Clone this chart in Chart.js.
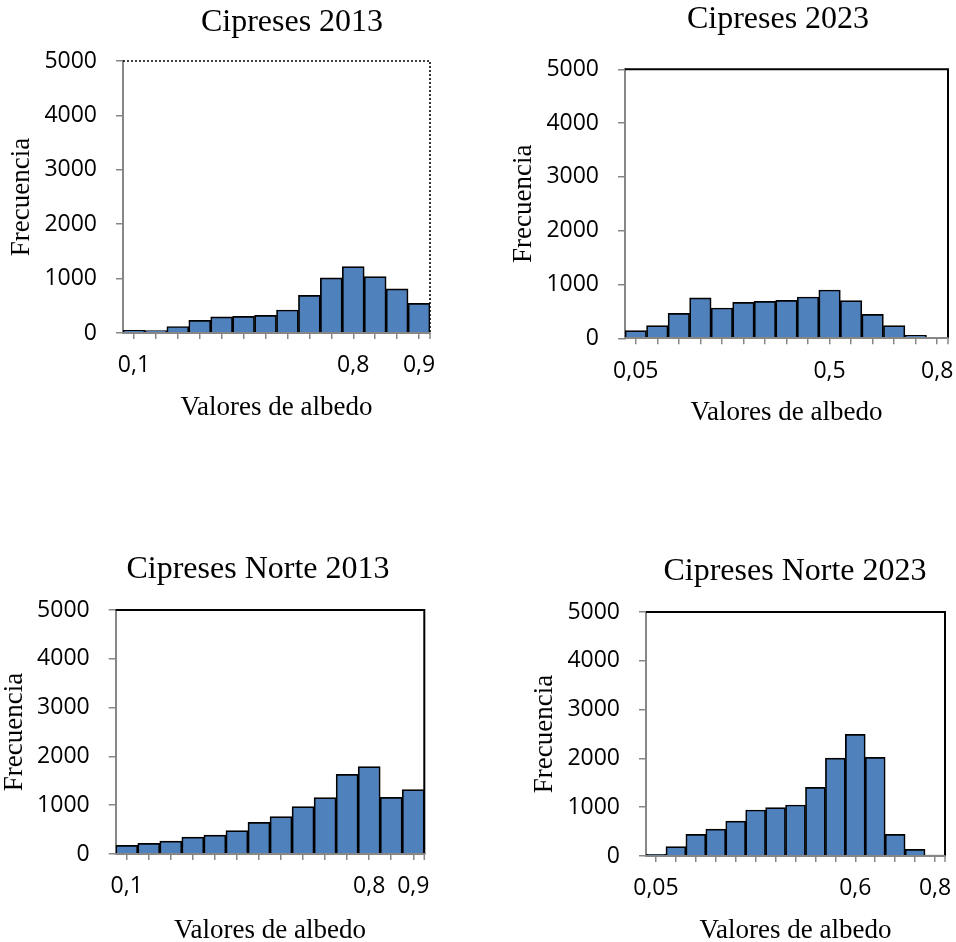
<!DOCTYPE html>
<html>
<head>
<meta charset="utf-8">
<script src="https://cdn.jsdelivr.net/npm/chart.js@4/dist/chart.umd.min.js"></script>
<style>
  html, body { margin: 0; padding: 0; background: #fff; overflow: hidden; width: 956px; height: 942px; position: relative; }
  canvas { position: absolute; }
</style>
</head>
<body>
<canvas id="c2013" width="584" height="440" style="left:0px;top:0px"></canvas>
<canvas id="c2023" width="556" height="440" style="left:500px;top:0px"></canvas>
<canvas id="cn2013" width="536" height="430" style="left:-10px;top:530px"></canvas>
<canvas id="cn2023" width="550" height="430" style="left:520px;top:530px"></canvas>
<script>
// Albedo histograms: pixel counts per albedo bin.
const cipreses2013Labels = ['0,1', '', '', '', '', '', '', '', '', '', '0,8', '', '', '0,9'];
const cipreses2013Counts = [50, 45, 120, 233, 295, 307, 325, 423, 693, 1012, 1221, 1037, 810, 546];

const cipreses2023Labels = ['0,05', '', '', '', '', '', '', '', '', '0,5', '', '', '', '', '0,8'];
const cipreses2023Counts = [142, 235, 465, 750, 564, 669, 688, 706, 768, 898, 700, 446, 235, 56, 20];

const norte2013Labels = ['0,1', '', '', '', '', '', '', '', '', '', '', '0,8', '', '0,9'];
const norte2013Counts = [178, 219, 266, 348, 389, 478, 649, 765, 970, 1154, 1633, 1790, 1161, 1318];

const norte2023Labels = ['0,05', '', '', '', '', '', '', '', '', '', '0,6', '', '', '', '0,8'];
const norte2023Counts = [34, 191, 444, 553, 717, 943, 990, 1045, 1407, 2008, 2493, 2022, 444, 137, 20];

const yTicksMax = 5000;
const yTicksStep = 1000;

const AXIS_GREY = '#878787';
const BAR_BLUE = '#4F81BD';

// Black top/right frame of the plot area, plus the closing tick at the end of the category axis.
const framePlugin = {
  id: 'frame',
  afterDatasetsDraw(chart, args, opts) {
    const { ctx, chartArea: a } = chart;
    ctx.save();
    ctx.strokeStyle = '#000';
    ctx.lineWidth = opts.width || 2;
    ctx.setLineDash(opts.dash || []);
    ctx.beginPath();
    ctx.moveTo(a.left, a.top);
    ctx.lineTo(a.right, a.top);
    ctx.lineTo(a.right, a.bottom);
    ctx.stroke();
    ctx.setLineDash([]);
    ctx.strokeStyle = AXIS_GREY;
    ctx.lineWidth = 1.5;
    ctx.beginPath();
    ctx.moveTo(a.right, a.bottom);
    ctx.lineTo(a.right, a.bottom + 6);
    ctx.stroke();
    ctx.restore();
  }
};

const tickFont = { family: 'Open Sans', size: 23 };
const serifTitle = { family: 'Liberation Serif', size: 32, weight: 'normal', lineHeight: 1.2 };
const serifAxis = { family: 'Liberation Serif', size: 27, weight: 'normal', lineHeight: 1.2 };

function histogram(id, title, labels, counts, g) {
  return new Chart(document.getElementById(id), {
    type: 'bar',
    data: {
      labels: labels,
      datasets: [{
        data: counts,
        xAxisID: 'x',
        yAxisID: 'y',
        backgroundColor: BAR_BLUE,
        borderColor: '#000',
        borderWidth: 1.7,
        barPercentage: 1,
        categoryPercentage: 1
      }]
    },
    options: {
      responsive: false,
      animation: false,
      devicePixelRatio: 1,
      layout: { padding: 0 },
      plugins: {
        legend: { display: false },
        tooltip: { enabled: false },
        title: {
          display: true,
          text: title,
          color: '#000',
          font: serifTitle,
          padding: { top: g.titleTop, bottom: g.titleBottom }
        },
        frame: { dash: g.dash, width: g.frameWidth }
      },
      scales: {
        x: {
          offset: true,
          grid: { display: true, offset: false, drawOnChartArea: false, drawTicks: true, tickLength: 6, color: AXIS_GREY, lineWidth: 1.5 },
          border: { display: true, color: AXIS_GREY, width: 2, z: 1 },
          ticks: { autoSkip: false, maxRotation: 0, minRotation: 0, padding: 13, color: '#000', font: tickFont },
          title: { display: true, text: 'Valores de albedo', color: '#000', font: serifAxis, padding: { top: 0, bottom: g.xTitleBottom } },
          afterFit: s => { s.height = g.xHeight; }
        },
        y: {
          min: 0,
          max: yTicksMax,
          grid: { display: true, drawOnChartArea: false, drawTicks: true, tickLength: 7, color: AXIS_GREY, lineWidth: 1.5 },
          border: { display: true, color: AXIS_GREY, width: 2 },
          ticks: { stepSize: yTicksStep, padding: 19, color: '#000', font: tickFont, callback: v => String(v) },
          title: { display: true, text: 'Frecuencia', color: '#000', font: serifAxis, padding: { top: g.yTitleTop, bottom: 0 } },
          afterFit: s => { s.width = g.yWidth; }
        },
        spacer: {
          type: 'linear',
          position: 'right',
          display: true,
          grid: { display: false },
          ticks: { display: false },
          border: { display: false },
          afterFit: s => { s.width = g.spacer; }
        }
      }
    },
    plugins: [framePlugin]
  });
}

histogram('c2013', 'Cipreses 2013', cipreses2013Labels, cipreses2013Counts, {
  titleTop: 3.1, titleBottom: 19.5, xHeight: 107, xTitleBottom: 15.8,
  yWidth: 123, yTitleTop: 5.8, spacer: 154, dash: [2, 2], frameWidth: 1.6
});

histogram('c2023', 'Cipreses 2023', cipreses2023Labels, cipreses2023Counts, {
  titleTop: 0.3, titleBottom: 30.6, xHeight: 101.7, xTitleBottom: 10.8,
  yWidth: 125, yTitleTop: 7.8, spacer: 108, dash: [], frameWidth: 2
});

histogram('cn2013', 'Cipreses Norte 2013', norte2013Labels, norte2013Counts, {
  titleTop: 20.8, titleBottom: 20.8, xHeight: 106, xTitleBottom: 12.8,
  yWidth: 125.7, yTitleTop: 8.8, spacer: 101.7, dash: [], frameWidth: 2
});

histogram('cn2023', 'Cipreses Norte 2023', norte2023Labels, norte2023Counts, {
  titleTop: 22.8, titleBottom: 20.8, xHeight: 104, xTitleBottom: 12.8,
  yWidth: 126, yTitleTop: 8.8, spacer: 125, dash: [], frameWidth: 2
});
</script>
</body>
</html>
